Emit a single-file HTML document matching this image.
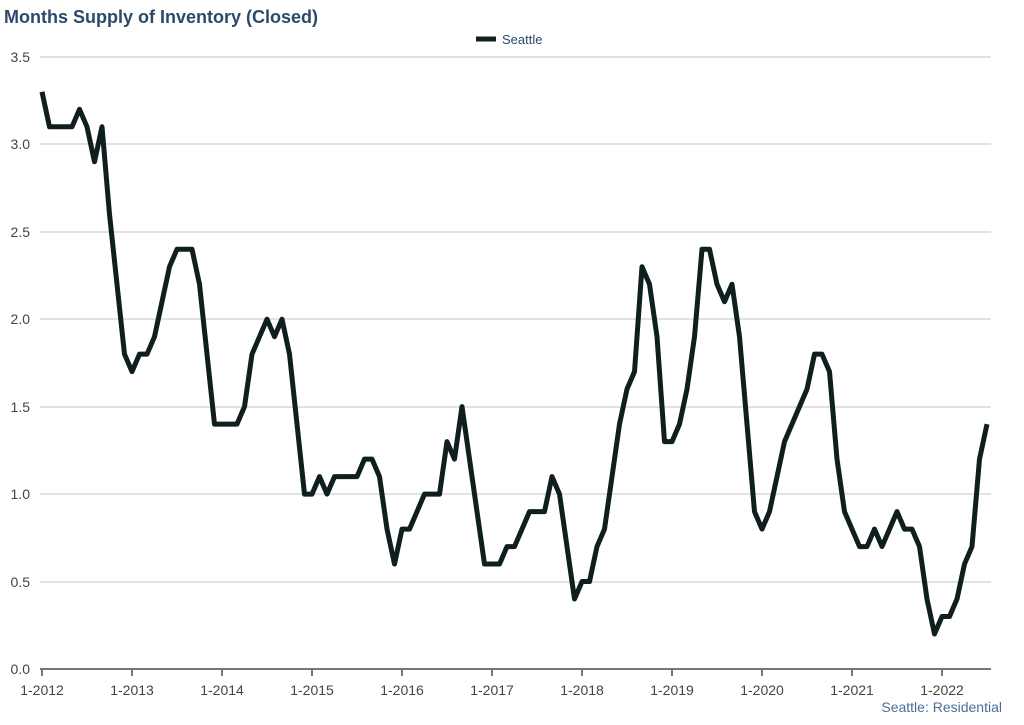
<!DOCTYPE html>
<html><head><style>
body{margin:0;background:#fff;width:1024px;height:720px;overflow:hidden;font-family:"Liberation Sans",sans-serif}
</style></head><body>
<svg width="1024" height="720" xmlns="http://www.w3.org/2000/svg" font-family="Liberation Sans, sans-serif">
<text x="4" y="23" font-size="18" font-weight="bold" fill="#2b4a6b">Months Supply of Inventory (Closed)</text>
<line x1="476" y1="39" x2="496" y2="39" stroke="#0f1e1e" stroke-width="5"/>
<text x="502" y="44" font-size="13" fill="#2b4a6b">Seattle</text>
<g stroke="#c4c4c4" stroke-width="1">
<line x1="40" y1="57" x2="991" y2="57"/><line x1="40" y1="144" x2="991" y2="144"/><line x1="40" y1="232" x2="991" y2="232"/><line x1="40" y1="319" x2="991" y2="319"/><line x1="40" y1="407" x2="991" y2="407"/><line x1="40" y1="494" x2="991" y2="494"/><line x1="40" y1="582" x2="991" y2="582"/>
</g>
<g font-size="14" fill="#444" text-anchor="end">
<text x="30" y="62">3.5</text><text x="30" y="149">3.0</text><text x="30" y="237">2.5</text><text x="30" y="324">2.0</text><text x="30" y="412">1.5</text><text x="30" y="499">1.0</text><text x="30" y="587">0.5</text><text x="30" y="674">0.0</text>
</g>
<line x1="40" y1="669" x2="991" y2="669" stroke="#777" stroke-width="2"/>
<g id="ticks" stroke="#777" stroke-width="2"></g>
<g id="xl" font-size="14" fill="#444" text-anchor="middle"></g>
<polyline id="ln" fill="none" stroke="#0f1e1e" stroke-width="5" stroke-linejoin="round"/>
<text x="1002" y="712" font-size="14" fill="#4a6e9a" text-anchor="end">Seattle: Residential</text>
</svg>
<script>
var d=[3.3,3.1,3.1,3.1,3.1,3.2,3.1,2.9,3.1,2.6,2.2,1.8,
1.7,1.8,1.8,1.9,2.1,2.3,2.4,2.4,2.4,2.2,1.8,1.4,
1.4,1.4,1.4,1.5,1.8,1.9,2.0,1.9,2.0,1.8,1.4,1.0,
1.0,1.1,1.0,1.1,1.1,1.1,1.1,1.2,1.2,1.1,0.8,0.6,
0.8,0.8,0.9,1.0,1.0,1.0,1.3,1.2,1.5,1.2,0.9,0.6,
0.6,0.6,0.7,0.7,0.8,0.9,0.9,0.9,1.1,1.0,0.7,0.4,
0.5,0.5,0.7,0.8,1.1,1.4,1.6,1.7,2.3,2.2,1.9,1.3,
1.3,1.4,1.6,1.9,2.4,2.4,2.2,2.1,2.2,1.9,1.4,0.9,
0.8,0.9,1.1,1.3,1.4,1.5,1.6,1.8,1.8,1.7,1.2,0.9,
0.8,0.7,0.7,0.8,0.7,0.8,0.9,0.8,0.8,0.7,0.4,0.2,
0.3,0.3,0.4,0.6,0.7,1.2,1.4];
var p=d.map(function(v,i){return (42+i*7.5)+","+(669-v*174.9)}).join(" ");
document.getElementById("ln").setAttribute("points",p);
var t="",l="";
for(var y=0;y<=10;y++){var x=42+y*90;t+='<line x1="'+x+'" y1="669" x2="'+x+'" y2="676"/>';l+='<text x="'+x+'" y="695">1-'+(2012+y)+'</text>';}
document.getElementById("ticks").innerHTML=t;document.getElementById("xl").innerHTML=l;
</script>
</body></html>
